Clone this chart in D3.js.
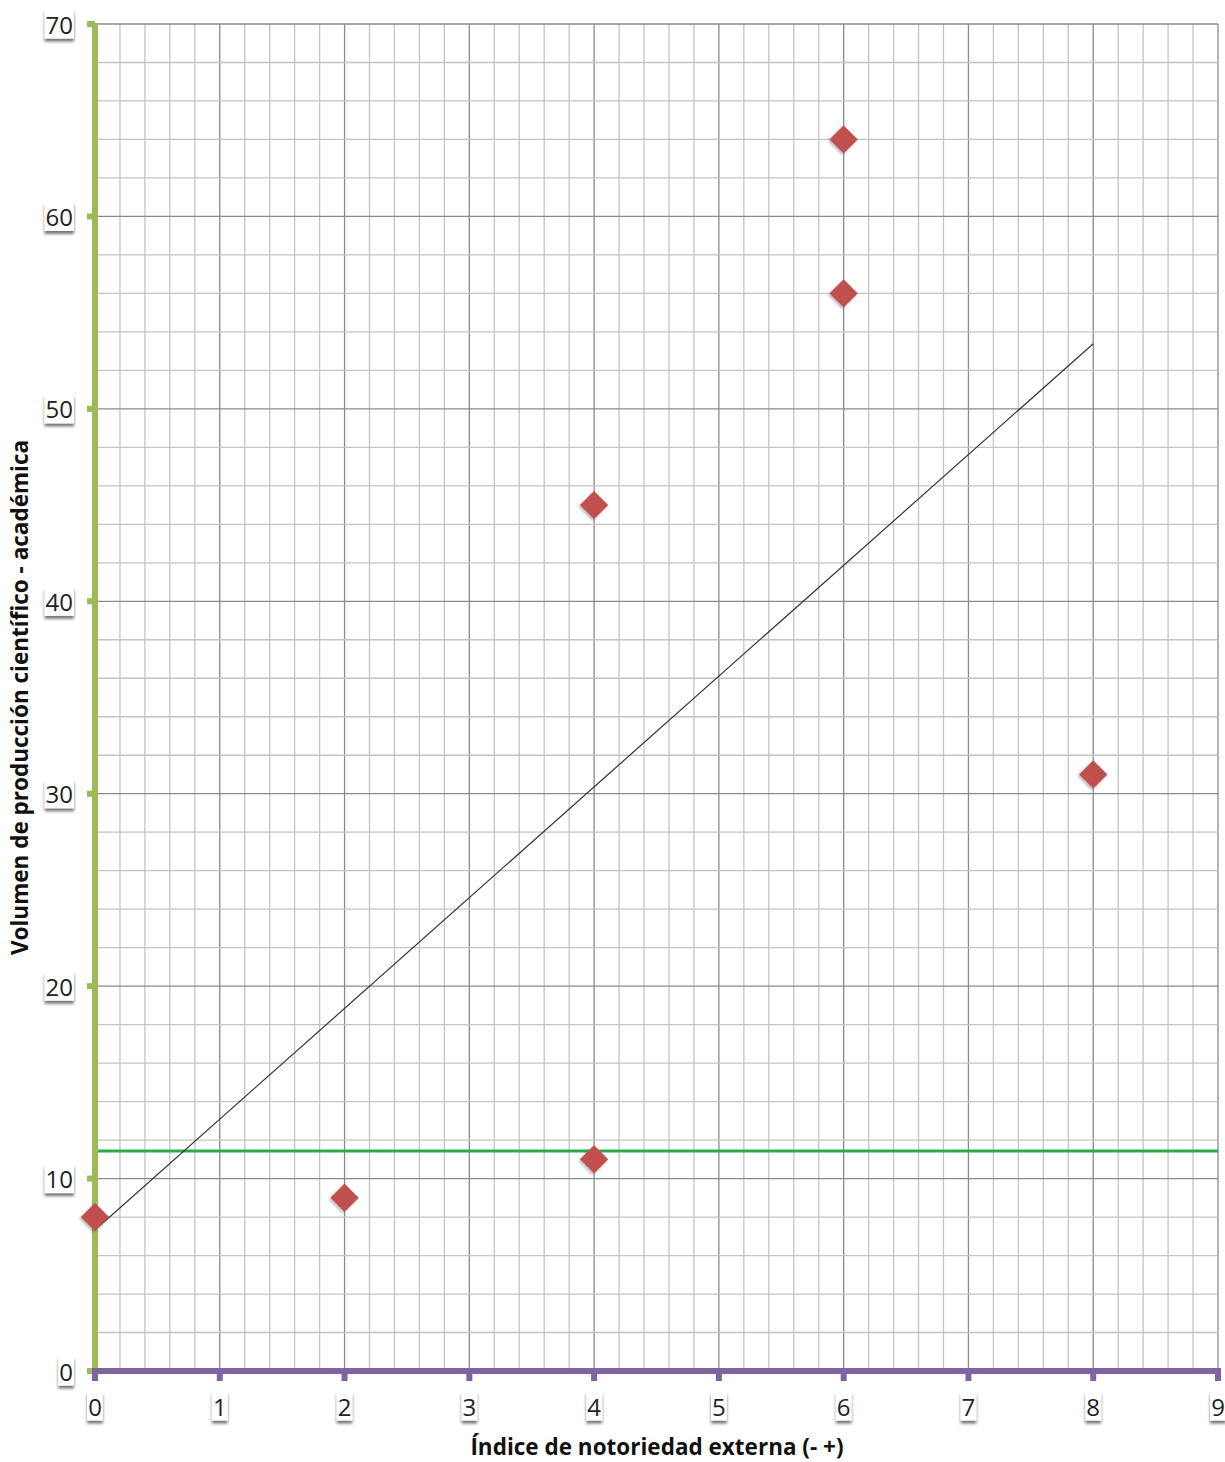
<!DOCTYPE html>
<html><head><meta charset="utf-8">
<script src="https://cdn.jsdelivr.net/npm/d3@7"></script>
<style>body{margin:0;background:#fff}svg{display:block}</style>
</head><body>
<svg id="chart" width="1225" height="1462"></svg>
<script>
const xValues = [0, 2, 4, 4, 6, 6, 8];
const yValues = [8, 9, 45, 11, 64, 56, 31];
const xTicks = [0,1,2,3,4,5,6,7,8,9];
const yTicks = [0,10,20,30,40,50,60,70];
const refLineValue = 11.43;
const xTitle = "Índice de notoriedad externa (- +)";
const yTitle = "Volumen de producción científico - académica";

const svg = d3.select("#chart");
const x = d3.scaleLinear().domain([0, 9]).range([95, 1218]);
const y = d3.scaleLinear().domain([0, 70]).range([1371, 24]);

const defs = svg.append("defs");
const f = defs.append("filter").attr("id","sh").attr("x","-30%").attr("y","-30%").attr("width","160%").attr("height","180%");
f.append("feDropShadow").attr("dx",0).attr("dy",3).attr("stdDeviation",1.6).attr("flood-color","#000").attr("flood-opacity",0.55);
const fm = defs.append("filter").attr("id","msh").attr("x","-40%").attr("y","-40%").attr("width","180%").attr("height","180%");
fm.append("feDropShadow").attr("dx",0).attr("dy",2).attr("stdDeviation",1.5).attr("flood-color","#000").attr("flood-opacity",0.3);

// minor grid
const xMinor = d3.range(0, 9.0001, 0.2).map(v => +v.toFixed(2));
const yMinor = d3.range(0, 70.0001, 2);
const g = svg.append("g");
g.selectAll(".vx").data(xMinor).join("line")
  .attr("x1", d=>x(d)).attr("x2", d=>x(d)).attr("y1", y(0)).attr("y2", y(70))
  .attr("stroke", d => Math.abs(d - Math.round(d)) < 1e-6 ? "#8a8a8a" : "#c4c4c4").attr("stroke-width", 1.3);
g.selectAll(".hy").data(yMinor).join("line")
  .attr("y1", d=>y(d)).attr("y2", d=>y(d)).attr("x1", x(0)).attr("x2", x(9))
  .attr("stroke", d => d % 10 === 0 ? "#8a8a8a" : "#c4c4c4").attr("stroke-width", 1.3);

// reference line
svg.append("line").attr("x1", x(0)).attr("x2", x(9)).attr("y1", y(refLineValue)).attr("y2", y(refLineValue))
  .attr("stroke", "#2eaa4a").attr("stroke-width", 3);

// trend line (least squares)
const n = xValues.length;
const mx = d3.mean(xValues), my = d3.mean(yValues);
let sxy = 0, sxx = 0;
for (let i = 0; i < n; i++) { sxy += (xValues[i]-mx)*(yValues[i]-my); sxx += (xValues[i]-mx)**2; }
const slope = sxy / sxx, icpt = my - slope * mx;
const x0 = d3.min(xValues), x1 = d3.max(xValues);
svg.append("line").attr("x1", x(x0)).attr("y1", y(icpt + slope*x0)).attr("x2", x(x1)).attr("y2", y(icpt + slope*x1))
  .attr("stroke", "#333").attr("stroke-width", 1.2);

// axes
const axisG = svg.append("g");
axisG.selectAll(".yt").data(yTicks).join("rect")
  .attr("x", x(0) - 8).attr("y", d => y(d) - 3).attr("width", 8).attr("height", 6).attr("fill", "#9bbb59");
axisG.append("line").attr("x1", x(0)).attr("x2", x(0)).attr("y1", y(0)).attr("y2", y(70))
  .attr("stroke", "#9bbb59").attr("stroke-width", 6);
axisG.selectAll(".xt").data(xTicks).join("rect")
  .attr("x", d => x(d) - 3).attr("y", y(0)).attr("width", 6).attr("height", 10).attr("fill", "#8064a2");
axisG.append("line").attr("x1", x(0) - 3).attr("x2", x(9) + 3).attr("y1", y(0)).attr("y2", y(0))
  .attr("stroke", "#8064a2").attr("stroke-width", 6);

// markers
svg.selectAll(".pt").data(xValues.map((v,i)=>[v, yValues[i]])).join("path")
  .attr("d", d3.symbol(d3.symbolSquare, 400))
  .attr("transform", d => `translate(${x(d[0])},${y(d[1])}) rotate(45)`)
  .attr("fill", "#c0504d").attr("filter", "url(#msh)");

// tick labels with shadow boxes
const font = "'Open Sans', 'DejaVu Sans', sans-serif";
function label(parent, tx, ty, text, anchor) {
  const t = parent.append("text").attr("x", tx).attr("y", ty).attr("text-anchor", anchor)
    .attr("font-family", font).attr("font-size", 24).attr("fill", "#222").attr("dominant-baseline", "central").text(text);
  const b = t.node().getBBox();
  parent.insert("rect", "text").attr("x", b.x - 1).attr("y", b.y + 2).attr("width", b.width + 2).attr("height", b.height - 4)
    .attr("fill", "#fff").attr("filter", "url(#sh)");
}
const ly = svg.append("g");
yTicks.forEach(v => { const gg = ly.append("g"); label(gg, 73, y(v), String(v), "end"); });
xTicks.forEach(v => { const gg = ly.append("g"); label(gg, x(v), 1406, String(v), "middle"); });

// titles
svg.append("text").attr("x", 657).attr("y", 1455).attr("text-anchor", "middle")
  .attr("font-family", font).attr("font-weight", "bold").attr("font-size", 22.5).attr("fill", "#111").text(xTitle);
svg.append("text").attr("transform", `translate(28,${(y(0)+y(70))/2}) rotate(-90)`).attr("text-anchor", "middle")
  .attr("font-family", font).attr("font-weight", "bold").attr("font-size", 22.5).attr("fill", "#111").text(yTitle);
</script>
</body></html>
